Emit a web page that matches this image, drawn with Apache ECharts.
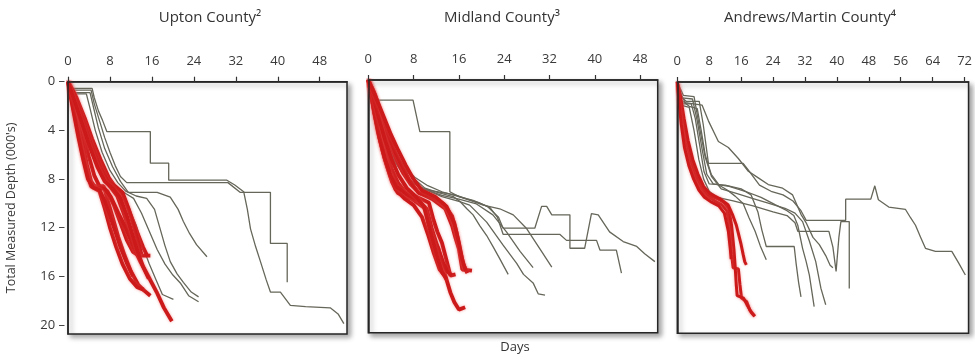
<!DOCTYPE html>
<html>
<head>
<meta charset="utf-8">
<script src="https://cdn.jsdelivr.net/npm/echarts@6/dist/echarts.min.js"></script>
<style>
  html, body { margin: 0; padding: 0; background: #fff; }
  #chart { width: 975px; height: 360px; }
</style>
</head>
<body>
<div id="chart"></div>
<script>
// Drilling curves: days on the x axis, total measured depth (thousand ft) on the y axis.
// Each well is a list of [day, depth] points. Grey = offset wells, red = highlighted wells.

const panelTitles = ['Upton County\u00b2', 'Midland County\u00b3', 'Andrews/Martin County\u2074'];
const dayStep = 8;      // day tick labels: 0, 8, 16, ...
const depthStep = 4;    // depth tick labels: 0, 4, 8, ... 20
const dayMax = [53.2, 51.1, 73.0];
const depthMax = [20.75, 20.8, 20.7];

const uptonGray = [
  [[0,0],[0.8,0.55],[4.6,0.55],[5,1.3],[5.8,2.4],[6.6,3.2],[7.4,4.1],[15.7,4.1],[15.7,6.7],[19.2,6.7],[19.2,8.1],[30.3,8.1],[31.8,8.5],[33.5,9.05],[34.2,10.5],[34.8,12.1],[35.8,13.6],[36.7,14.8],[37.8,16.3],[38.6,17.3],[40.5,17.3],[42.4,18.4],[45.3,18.5],[50,18.6],[51.5,19.1],[52.6,19.9]],
  [[0,0],[0.6,0.7],[4.4,0.7],[5,1.8],[6,3.2],[7,4.6],[8,5.8],[9,6.9],[10,7.8],[11.2,8.3],[30.5,8.3],[32.8,9.1],[38.6,9.1],[38.6,13.3],[41.8,13.3],[41.8,16.5]],
  [[0,0],[0.5,0.9],[4.2,0.9],[4.8,2],[5.8,3.8],[7,5.5],[8.5,7],[10,8.2],[11.5,9.1],[17,9.1],[19.5,9.5],[21,10.5],[22,11.5],[23.2,12.5],[24.5,13.4],[26.5,14.4]],
  [[0,0],[0.4,1.0],[3.5,1.0],[4.2,2.2],[5.2,4],[6.5,5.8],[8,7.3],[9.5,8.3],[11,9],[13,9.4],[15,9.6],[16.5,10.5],[17.5,12],[18.5,13.5],[19.5,14.8],[20.8,15.8],[22,16.5],[23.5,17.3],[24.9,17.7]],
  [[0,0],[1,1.2],[2.5,2.2],[3.5,3.5],[4.5,5],[6,6.6],[7.5,7.8],[9,8.6],[11,9.2],[12.5,9.6],[14,10.8],[15.5,12.3],[17,13.8],[18.5,15],[20,15.9],[21.5,16.6],[23,17.6],[24.9,18.1]],
  [[0,0],[1,1.6],[2.2,3],[3.5,4.8],[5,6.5],[6.5,7.8],[8,8.6],[10,9.3],[11.5,10.3],[13,11.8],[14.2,13.5],[15.5,15],[16.8,16.3],[18,17.5],[20.1,17.9]]
];

const uptonRed = [
  [[0,0],[0.6,1],[1.4,2.8],[2.2,4.6],[3,6.3],[3.8,7.8],[4.6,8.6],[6.8,8.6],[7.6,9.8],[8.6,11.3],[9.6,12.8],[10.8,14.3],[12,15.6],[13.4,16.7],[14.6,17.2],[15.7,17.6]],
  [[0,0],[1,1.2],[2,2.8],[3,4.5],[4,6.2],[5,7.7],[6,8.6],[7.5,9],[8.8,10.2],[10,11.6],[11.2,13],[12.4,14],[13.5,14.3],[15.7,14.3]],
  [[0,0],[1.3,1.2],[2.6,2.9],[3.9,4.6],[5.2,6.3],[6.5,7.7],[8,8.6],[9.4,9.4],[10.6,10.8],[11.8,12.3],[12.8,13.6],[13.6,14.3]],
  [[0,0],[1.6,1.3],[3.2,3],[4.6,4.7],[6.2,6.4],[7.8,7.9],[9.4,8.9],[10.8,9.7],[12,11],[13.2,12.4],[14.3,13.6],[15.2,14.4]],
  [[0,0],[0.9,1.4],[1.8,3.2],[2.7,5],[3.6,6.8],[4.4,8.2],[5.2,8.7],[7,8.8],[8.2,9.5],[9.6,10.8],[11,12],[12.4,13.5],[13.8,14.8],[15.3,16],[16.9,17.3],[18.3,18.6],[19.8,19.7]],
  [[0,0],[0.8,1.7],[1.7,3.7],[2.6,5.6],[3.5,7.3],[4.4,8.6],[6,9],[7,10.4],[8,12],[9.2,13.6],[10.4,15],[11.8,16.2],[13.2,16.9],[14.4,17.1]],
  [[0,0],[1.1,0.9],[2.3,2.4],[3.5,4],[4.8,5.6],[6.2,7.1],[7.6,8.2],[9,8.6],[10.4,9.1],[11.6,10.5],[12.6,12],[13.5,13.4],[14,14.2]],
  [[0,0],[0.5,1.2],[1.2,2.8],[2,4.6],[2.9,6.4],[3.8,8],[4.8,8.7],[6,8.9],[7,9.8],[8,11],[9,12.3],[10,13.6],[11.2,14.9],[12.4,16]],
  [[0,0],[1.4,1.8],[2.8,3.6],[4.2,5.4],[5.6,7],[7,8.2],[8.6,8.8],[10,9.6],[11.2,11],[12.3,12.6],[13.3,14],[14.3,15.2],[15.4,16.2]]
];

const midlandGray = [
  [[0,0],[1.2,1.65],[7.9,1.65],[9.1,4.25],[14.4,4.25],[14.4,9.2],[16,9.6],[18.5,9.9],[21,10.4],[23,11.3],[23.8,12.2],[29.4,12.2],[30.6,10.4],[31.5,10.4],[32.4,11.1],[35.6,11.1],[35.6,13.85],[38.2,13.85],[39.4,11],[40.6,11.1],[42.6,12.5],[45,13.3],[47.4,13.7],[48.8,14.3],[50.6,14.95]],
  [[0,0],[0.8,1.5],[1.8,3.2],[3,5],[4.5,6.6],[6,7.6],[7.5,8.3],[9,8.8],[11,9.1],[13.5,9.3],[15.6,9.5],[17.5,9.8],[19.5,10.1],[21.5,10.5],[22.8,11.3],[23.8,12.7],[33.8,12.7],[35,13.2],[40.3,13.2],[40.9,14],[43.8,14],[44.7,15.9]],
  [[0,0],[0.7,1.8],[1.6,3.8],[2.8,5.5],[4,6.5],[5.5,6.9],[7,7.6],[8.5,8.3],[10,8.9],[12.5,9.3],[15,9.6],[16.2,10],[17.4,10.6],[18.5,11.1],[19.7,12],[20.9,12.8],[22,13.7],[23.2,14.7],[24.7,16]],
  [[0,0],[0.9,1.4],[2,3.3],[3.3,5.2],[4.8,6.8],[6.3,7.8],[8,8.5],[10,9],[13,9.5],[16,9.8],[19.1,10.2],[22,11.1],[24.4,12.5],[26.8,14.1],[29.1,15.45]],
  [[0,0],[1,1.2],[2.2,3],[3.6,4.9],[5,6.2],[6.5,7.2],[8.2,8],[10.5,8.7],[13,9.2],[16,9.6],[18.5,10],[20.3,10.3],[23.2,10.6],[25.6,11.1],[27.9,12.2],[30.3,13.9],[32.4,15.4]],
  [[0,0],[0.8,1.6],[1.9,3.5],[3.2,5.3],[4.6,6.6],[6,7.5],[7.8,8.4],[10,9],[13,9.6],[16,10],[17.9,10.3],[20.9,11.7],[23.8,13.6],[26.2,15.1],[27.4,16],[29.1,16.7],[30,17.6],[31.2,17.7]]
];

const midlandRed = [
  [[0,0],[0.4,1],[1,2.6],[1.7,4.3],[2.5,5.8],[3.3,7.1],[4.2,8.4],[5.2,9.3],[7.7,9.8],[10.1,10.6],[10.7,12],[11.5,13],[12.4,13.9],[13,15],[13.6,16.1],[14.5,17.5],[15.2,18.3],[16,18.9],[17.1,18.7]],
  [[0,0],[0.7,1.1],[1.5,2.9],[2.3,4.5],[3.2,6],[4.2,7.4],[5.3,8.5],[6.5,9.2],[8.5,9.6],[10.7,10.1],[11.5,11.5],[12.2,12.5],[13,13.4],[13.9,15],[14.5,16.1],[15.4,16]],
  [[0,0],[0.9,0.9],[1.9,2.5],[2.9,4],[3.9,5.4],[5,6.6],[6.2,7.7],[7.5,8.6],[9,9.3],[11.3,9.8],[13.6,10.6],[14.8,12],[15.4,13],[16,13.9],[16.6,15.6],[18.3,15.7]],
  [[0,0],[1.2,1.2],[2.4,2.9],[3.6,4.6],[4.8,6],[6,7.1],[7.2,8.2],[8.9,9.3],[11.3,9.6],[13.3,10.2],[14.8,11.2],[15.6,12.6],[16.2,14],[16.8,15.2],[17.5,15.9]],
  [[0,0],[0.6,1.5],[1.3,3.2],[2.1,5],[2.9,6.5],[3.8,7.8],[4.8,9],[6.5,9.8],[8,10.3],[9.5,11.3],[10.6,12.8],[11.6,14.3],[12.6,15.6],[13.3,16]],
  [[0,0],[0.5,1.2],[1.2,3],[2,4.8],[2.9,6.4],[3.9,7.8],[5,8.8],[6.8,9.4],[8.8,9.9],[10.3,10.6],[11.2,12.2],[12.2,13.7],[13.2,15],[14,15.8],[14.8,16.1]],
  [[0,0],[1,1.6],[2,3.4],[3,5],[4.1,6.5],[5.3,7.8],[6.8,8.9],[8.4,9.6],[9.8,10.4],[10.6,11.8],[11.4,13.2],[12.2,14.6],[13,15.8],[13.8,16.4]],
  [[0,0],[1.3,1.4],[2.7,3],[4,4.5],[5.3,5.8],[6.6,7],[7.9,8.1],[9.5,9.1],[11.8,9.6],[13.8,10.4],[15.2,11.8],[16,13.4],[16.6,14.8],[17.2,15.7]]
];

const andrewsGray = [
  [[0,0],[0.6,0.8],[2,1.7],[6.2,1.9],[7.8,3.2],[10.3,4.9],[12.8,5.4],[15.3,6.3],[17.8,7.35],[20.3,7.9],[22.8,8.45],[26.4,8.75],[28.9,9.3],[31,10.9],[32.3,11.6],[34,12.8],[35.6,13.4],[37.2,14.3],[38.3,15.1],[39,15.3]],
  [[0,0],[0.8,1.2],[2.3,1.6],[5.5,1.6],[6.5,3.5],[7.8,6.7],[16.5,6.7],[18.6,7.6],[20.6,8.5],[23.5,9],[26.5,9.3],[29,9.8],[31,10.6],[32.3,11.4],[42.2,11.4],[42.2,9.65],[48.5,9.65],[49.5,8.55],[50.4,9.7],[53,10.3],[57.2,10.5],[58.5,11.2],[59.7,11.8],[61,12.8],[62.2,13.7],[64.7,13.95],[68.8,13.95],[70.5,14.9],[72.2,15.9]],
  [[0,0],[1,1.5],[3,2],[5,2.2],[6,4],[7,6],[8.5,7.6],[10.5,8.5],[12.5,8.9],[14.5,9.4],[16.5,10],[18,11.2],[19.5,12.3],[20.8,13.5],[22.3,14.65]],
  [[0,0],[0.5,1.8],[3.5,1.8],[4.5,3],[5.5,5],[6.7,7.4],[8,8.4],[12,8.5],[16,8.8],[18.5,9.3],[20.2,10.7],[21.2,12.2],[22.3,13.55],[29.3,13.55],[29.8,15],[30.4,16.5],[31,17.7]],
  [[0,0],[1.2,1.3],[3.8,1.4],[5,3.2],[6.2,5.5],[7.4,7.6],[9,8.4],[13,8.6],[17,9],[21,9.5],[24.5,10.1],[27.5,10.6],[29.2,11],[30.2,11.8],[31.4,13.7],[32.3,14.8],[33.1,15.9],[33.7,17.2],[34.3,18.5]],
  [[0,0],[1.5,1.1],[4.2,1.2],[5.6,3.8],[7,6.2],[8.6,7.8],[11,8.8],[15,9.2],[19,9.6],[23,10],[27,10.4],[29.5,10.8],[31.4,11.5],[33.1,13.1],[34.7,14.8],[36,17],[37.2,18.35]],
  [[0,0],[0.9,1.9],[3,2.1],[4.2,4],[5.4,6.4],[6.6,8],[8,9],[10,9.5],[14,9.8],[19,10.2],[24,10.7],[27.5,11],[29.5,11.6],[30.2,12.3],[38,12.3],[39,13.6],[39.8,15.6],[40.5,12.8],[41,11.5],[43.1,11.5],[43.1,17]]
];

const andrewsRed = [
  [[0,0],[0.5,1.5],[1.2,3.4],[2,5.2],[3.2,6.7],[4.5,7.9],[5.8,8.8],[7,9.3],[9.5,9.8],[11.1,10.1],[12.4,10.6],[13.2,12],[13.6,14.2],[14,15.3],[15.3,15.4],[15.7,16.7],[16.1,17.8],[17.4,18.1],[18.2,18.8],[19.4,19.3]],
  [[0,0],[0.7,1.3],[1.5,3.2],[2.4,5],[3.6,6.6],[4.9,7.8],[6.3,8.7],[7.8,9.3],[10,9.6],[11.6,9.9],[12.9,10.4],[13.6,11.8],[14.2,13.8],[14.5,15.2],[14.8,16.8],[15,17.6],[16.6,17.8],[17.4,18.3],[18.6,19],[19.4,19.3]],
  [[0,0],[0.8,1.2],[1.7,3],[2.7,4.8],[3.9,6.4],[5.2,7.6],[6.6,8.6],[8.2,9.2],[10.6,9.6],[12.7,10.1],[13.8,10.9],[14.8,11.8],[15.4,12.6],[16,13.4],[16.5,14.2],[16.9,14.8],[17.3,15.06]],
  [[0,0],[0.4,1.6],[1,3.5],[1.8,5.4],[2.9,6.9],[4.1,8],[5.4,8.9],[6.8,9.5],[8.6,9.9],[10.4,10.2],[11.8,10.8],[12.8,12.3],[13.3,13.8],[13.5,14.6]]
];

const panels = [
  { gray: uptonGray, red: uptonRed, redWidth: 3.8 },
  { gray: midlandGray, red: midlandRed, redWidth: 3.8 },
  { gray: andrewsGray, red: andrewsRed, redWidth: 3 }
];

const FONT = '"Open Sans", "DejaVu Sans", sans-serif';
const TEXT = '#3a3a3a';
const GRAY = '#66665a';
const RED = '#cc1a1a';
const FRAME = '#262626';

const grids = [
  { left: 68, top: 81.7, width: 279, height: 252.3 },
  { left: 368.3, top: 80, width: 289.4, height: 252.7 },
  { left: 677.3, top: 82, width: 292.7, height: 251.3 }
].map(g => Object.assign({
  show: true,
  backgroundColor: '#fff',
  borderColor: FRAME,
  borderWidth: 1.5,
  shadowColor: 'rgba(0,0,0,0.35)',
  shadowBlur: 5,
  shadowOffsetX: 3,
  shadowOffsetY: 3
}, g));

// tick labels only on whole steps (the axis end value is not labelled)
const isStep = (v, step) => Math.abs(v / step - Math.round(v / step)) < 1e-6;

const xAxes = panels.map((p, i) => ({
  type: 'value',
  gridIndex: i,
  position: 'top',
  z: 5,
  min: 0,
  max: dayMax[i],
  interval: dayStep,
  axisLine: { show: true, onZero: false, lineStyle: { color: FRAME, width: 1.5 } },
  splitLine: { show: false },
  axisTick: { show: true, length: 5, inside: false,
              lineStyle: { color: '#333', width: 1.2 } },
  axisLabel: {
    show: true, margin: 14, showMaxLabel: false,
    color: TEXT, fontFamily: FONT, fontSize: 13,
    formatter: v => (isStep(v, dayStep) ? String(v) : '')
  }
}));

// depth labels carry a short dash, like "8 –"
const yAxes = panels.map((p, i) => ({
  type: 'value',
  gridIndex: i,
  inverse: true,
  z: 5,
  min: 0,
  max: depthMax[i],
  interval: depthStep,
  axisLine: { show: true, onZero: false, lineStyle: { color: FRAME, width: 1.5 } },
  splitLine: { show: false },
  axisTick: { show: false },
  axisLabel: {
    show: i === 0, margin: 3, showMaxLabel: false,
    color: TEXT, fontFamily: FONT, fontSize: 13,
    formatter: v => (isStep(v, depthStep) ? v + ' \u2013' : '')
  },
  name: i === 0 ? "Total Measured Depth (000's)" : '',
  nameLocation: 'middle',
  nameGap: 50,
  nameRotate: 90,
  nameTextStyle: { color: TEXT, fontFamily: FONT, fontSize: 12.5 }
}));

const series = [];
panels.forEach((p, i) => {
  p.gray.forEach(well => series.push({
    type: 'line', xAxisIndex: i, yAxisIndex: i, data: well,
    showSymbol: false, silent: true, animation: false, z: 2,
    lineStyle: { color: GRAY, width: 1.3 }
  }));
  p.red.forEach(well => series.push({
    type: 'line', xAxisIndex: i, yAxisIndex: i, data: well,
    showSymbol: false, silent: true, animation: false, z: 3,
    lineStyle: { color: RED, width: p.redWidth, shadowColor: 'rgba(235,90,90,0.55)', shadowBlur: 3 }
  }));
});

const titleX = [210, 502, 810];
const graphics = panelTitles.map((t, i) => ({
  type: 'text', x: titleX[i], y: 18,
  style: { text: t, align: 'center', verticalAlign: 'middle',
           font: '15px ' + FONT, fill: '#333' }
}));
graphics.push({
  type: 'text', x: 515, y: 347,
  style: { text: 'Days', align: 'center', verticalAlign: 'middle',
           font: '13px ' + FONT, fill: '#333' }
});

const chart = echarts.init(document.getElementById('chart'), null, { renderer: 'canvas' });
chart.setOption({
  backgroundColor: '#fff',
  animation: false,
  grid: grids,
  xAxis: xAxes,
  yAxis: yAxes,
  series: series,
  graphic: graphics
});
</script>
</body>
</html>
